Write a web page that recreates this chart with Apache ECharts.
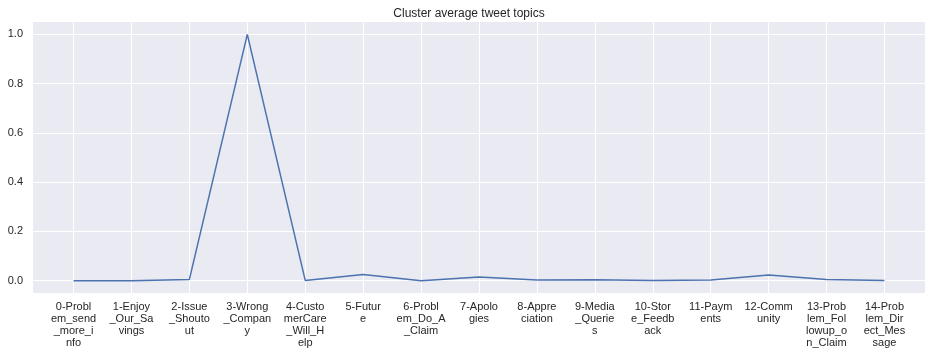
<!DOCTYPE html>
<html>
<head>
<meta charset="utf-8">
<script src="https://cdn.jsdelivr.net/npm/echarts@6/dist/echarts.min.js"></script>
<style>
  html, body { margin: 0; padding: 0; background: #fff; }
  #main { width: 938px; height: 354px; }
</style>
</head>
<body>
<div id="main"></div>
<script>
// categories (topic names), one value per topic
var topics = [
  '0-Problem_send_more_info', '1-Enjoy_Our_Savings', '2-Issue_Shoutout',
  '3-Wrong_Company', '4-CustomerCare_Will_Help', '5-Future',
  '6-Problem_Do_A_Claim', '7-Apologies', '8-Appreciation',
  '9-Media_Queries', '10-Store_Feedback', '11-Payments',
  '12-Community', '13-Problem_Followup_on_Claim', '14-Problem_Direct_Message'
];
var avgTopic = [0.0, 0.0, 0.005, 1.0, 0.001, 0.025, 0.0, 0.015, 0.003, 0.004, 0.001, 0.003, 0.023, 0.005, 0.001];
var yTicks = [0, 0.2, 0.4, 0.6, 0.8, 1.0];
var xTicks = topics.map(function (t, i) { return i; });

// matplotlib wraps long tick text every 7 chars here
function wrap(s, n) {
  var out = [];
  for (var i = 0; i < s.length; i += n) out.push(s.slice(i, i + n));
  return out.join('\n');
}

var chart = echarts.init(document.getElementById('main'));

var option = {
  backgroundColor: '#fff',
  animation: false,
  title: {
    text: 'Cluster average tweet topics',
    left: 'center',
    top: 3,
    textStyle: { fontFamily: 'Liberation Sans', fontSize: 12, fontWeight: 'normal', color: '#262626' }
  },
  grid: {
    left: 33, right: 13, top: 22, bottom: 61,
    show: true, backgroundColor: '#EAEAF2', borderWidth: 0
  },
  xAxis: {
    type: 'value',
    min: -0.7, max: 14.7,
    axisLine: { show: false },
    axisTick: { show: false, customValues: xTicks },
    splitLine: { show: true, lineStyle: { color: '#fff', width: 1 } },
    axisLabel: {
      customValues: xTicks,
      margin: 8,
      fontFamily: 'Liberation Sans', fontSize: 11, lineHeight: 12, color: '#262626',
      formatter: function (v) { return wrap(topics[Math.round(v)], 7); }
    }
  },
  yAxis: {
    type: 'value',
    min: -0.05, max: 1.05,
    axisLine: { show: false },
    axisTick: { show: false, customValues: yTicks },
    splitLine: { show: true, lineStyle: { color: '#fff', width: 1 } },
    axisLabel: {
      customValues: yTicks,
      margin: 10,
      fontFamily: 'Liberation Sans', fontSize: 11, color: '#262626',
      formatter: function (v) { return v.toFixed(1); }
    }
  },
  series: [{
    type: 'line',
    data: avgTopic.map(function (v, i) { return [i, v]; }),
    symbol: 'none',
    lineStyle: { color: '#4C72B0', width: 1.5 }
  }]
};

chart.setOption(option);
</script>
</body>
</html>
